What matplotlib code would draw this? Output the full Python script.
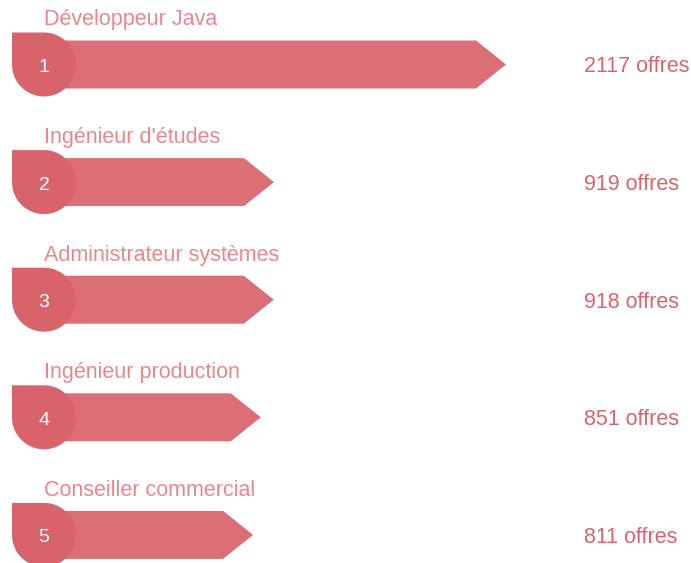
import numpy as np
import matplotlib.pyplot as plt
from matplotlib.patches import Polygon

jobs = ["Développeur Java", "Ingénieur d'études", "Administrateur systèmes",
        "Ingénieur production", "Conseiller commercial"]
offers = [2117, 919, 918, 851, 811]
ranks = ["1", "2", "3", "4", "5"]

drop_col = '#d8636b'
bar_col = '#dc6f75'
label_col = '#ea878d'
value_col = '#d9646c'

fig = plt.figure(figsize=(6.91, 5.63), dpi=100)
ax = fig.add_axes([0, 0, 1, 1])
ax.set_xlim(0, 691)
ax.set_ylim(563, 0)
ax.axis('off')

x_cx = 44        # centre of the drop
r = 32           # drop radius
half_h = 24      # half bar height
head = 30        # arrow head length
x_zero = 96      # where value 0 would sit
scale = 410 / max(offers)

for i, (job, n, rk) in enumerate(zip(jobs, offers, ranks)):
    cy = 64.5 + i * 117.6
    tip = x_zero + n * scale
    bar = [(x_cx, cy - half_h), (tip - head, cy - half_h), (tip, cy),
           (tip - head, cy + half_h), (x_cx, cy + half_h)]
    ax.add_patch(Polygon(bar, closed=True, facecolor=bar_col, edgecolor='none'))

    t = np.radians(np.linspace(-90, 180, 80))
    pts = list(zip(x_cx + r * np.cos(t), cy + r * np.sin(t)))
    pts.append((x_cx - r, cy - r))
    ax.add_patch(Polygon(pts, closed=True, facecolor=drop_col, edgecolor='none'))

    ax.text(x_cx, cy + 3, rk, color='white', fontsize=14, ha='center', va='center',
            family='Liberation Sans')
    ax.text(x_cx, cy - 44.5, job, color=label_col, fontsize=15.5, ha='left', va='center',
            family='Liberation Sans')
    ax.text(584, cy + 2.5, f"{n} offres", color=value_col, fontsize=15.5, ha='left', va='center',
            family='Liberation Sans')

fig.savefig('out.png', dpi=100)
